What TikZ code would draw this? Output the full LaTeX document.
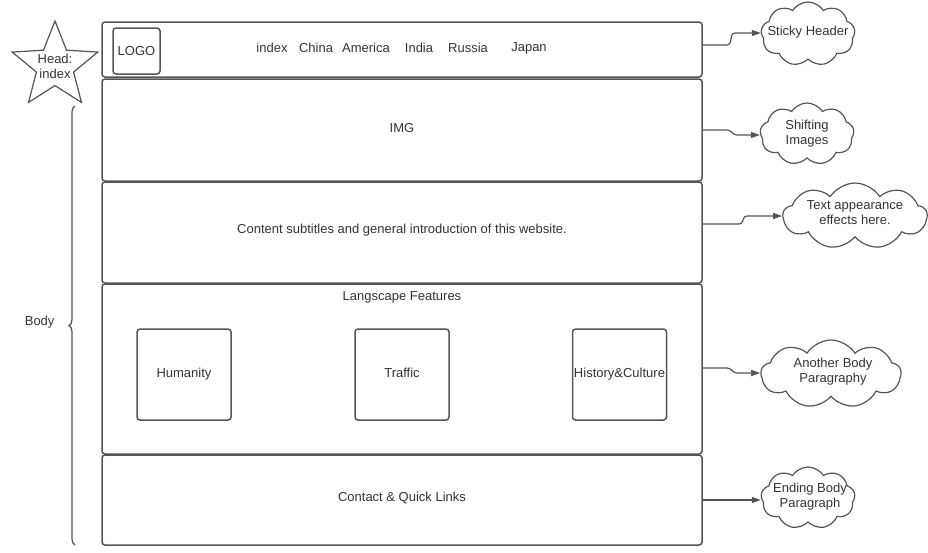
\documentclass[tikz,border=0pt]{standalone}
\usepackage{fontspec}
\setmainfont{Liberation Sans}
\usetikzlibrary{shapes.geometric,shapes.symbols,arrows.meta,decorations.pathreplacing}
\definecolor{ln}{HTML}{555555}
\definecolor{tx}{HTML}{333333}
\begin{document}
\begin{tikzpicture}[x=1pt,y=-1pt,
  every node/.style={font=\fontsize{13}{15}\selectfont,text=tx},
  panel/.style={draw=ln,line width=1.5pt,rounded corners=3pt},
  sqbox/.style={draw=ln,line width=1.5pt,rounded corners=3pt,minimum width=94pt,minimum height=91pt,inner sep=0pt,text height=9.5pt,text depth=3pt},
  cloudnode/.style={cloud,draw=ln,line width=1.2pt,cloud puffs=9,cloud puff arc=115,inner sep=0pt},
  cloudtext/.style={align=center,inner sep=0pt},
  conn/.style={draw=ln,line width=1.2pt,rounded corners=3pt,-{Triangle[length=9pt,width=6pt]}},
]
\useasboundingbox (0,0) rectangle (928,552);
% panels
\draw[panel] (102,22) rectangle (702,77);
\draw[panel] (102,79) rectangle (702,181);
\draw[panel] (102,182) rectangle (702,283);
\draw[panel] (102,284) rectangle (702,454);
\draw[panel] (102,455) rectangle (702,545);
\coordinate (p1) at (702,45);
\coordinate (p2) at (702,130);
\coordinate (p3) at (702,224);
\coordinate (p4) at (702,368);
\coordinate (p5) at (702,500);
% header
\node[draw=ln,line width=1.5pt,rounded corners=3pt,minimum width=47pt,minimum height=46pt,inner sep=0pt] (logo) at (136.5,51) {LOGO};
\node (n1) at (272,48) {index};
\node (n2) at (316,48) {China};
\node (n3) at (366,48) {America};
\node (n4) at (419,48) {India};
\node (n5) at (468,48) {Russia};
\node (n6) at (529,48) {Japan};
% bodies
\node (img) at (402,128) {IMG};
\node (intro) at (402,230) {Content subtitles and general introduction of this website.};
\node (feat) at (402,297) {Langscape Features};
\node[sqbox] (hum) at (184,374.5) {Humanity};
\node[sqbox] (tra) at (402,374.5) {Traffic};
\node[sqbox] (his) at (619.5,374.5) {History\&Culture};
\node (contact) at (402,498) {Contact \& Quick Links};
% star
\node[star,star points=5,star point ratio=2.3,draw=ln,line width=1.2pt,minimum size=90pt,inner sep=0pt] (star) at (55,66) {};
\node[align=center,font=\fontsize{13}{15}\selectfont] (startext) at (55,66) {Head:\\index};
% brace
\draw[ln,line width=1.2pt,decorate,decoration={brace,amplitude=6pt,mirror}] (75,106) -- (75,545);
\node[anchor=east] (body) at (58,322) {Body};
% clouds
\node[cloudnode,aspect=1.45,minimum width=94pt,minimum height=64pt] (c1) at (808,34) {};
\node[cloudtext] (t1) at (808,32) {Sticky Header};
\node[cloudnode,aspect=1.5,minimum width=94pt,minimum height=62pt] (c2) at (807,134) {};
\node[cloudtext] (t2) at (807,134) {Shifting\\Images};
\node[cloudnode,aspect=2.2,minimum width=144pt,minimum height=66pt] (c3) at (855,216) {};
\node[cloudtext] (t3) at (855,213) {Text appearance\\effects here.};
\node[cloudnode,aspect=2.05,minimum width=140pt,minimum height=68pt] (c4) at (831,374) {};
\node[cloudtext] (t4) at (833,372) {Another Body\\Paragraphy};
\node[cloudnode,aspect=1.5,minimum width=94pt,minimum height=62pt] (c5) at (808,498) {};
\node[cloudtext] (t5) at (810,497) {Ending Body\\Paragraph};
% connectors
\draw[conn] (p1) -- (730,45) -- (732,33) -- (c1.west |- 0,33);
\draw[conn] (p2) -- (730,130) -- (734,135) -- (c2.west |- 0,135);
\draw[conn] (p3) -- (742,224) -- (744,216) -- (c3.west |- 0,216);
\draw[conn] (p4) -- (730,368) -- (734,373) -- (c4.west |- 0,373);
\draw[conn] (p5) -- (c5.west |- 0,500);
\end{tikzpicture}
\end{document}
